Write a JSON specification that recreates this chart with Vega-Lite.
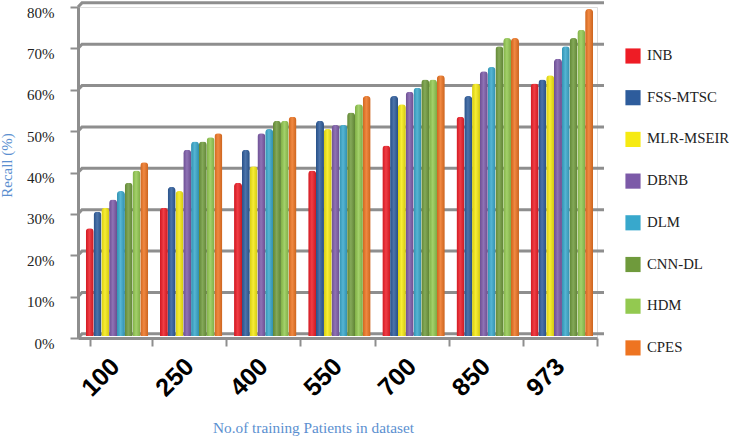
{
"$schema":"https://vega.github.io/schema/vega-lite/v6.json",
"width":519,"height":331,
"autosize":{"type":"none"},
"padding":{"left":78,"top":7,"right":132,"bottom":100},
"background":"white",
"datasets":{
"wall":[
{"wx":0,"wy":0,"level":0},{"wx":4,"wy":1,"level":0},{"wx":526,"wy":1,"level":0},
{"wx":0,"wy":10,"level":10},{"wx":4,"wy":11,"level":10},{"wx":526,"wy":11,"level":10},
{"wx":0,"wy":20,"level":20},{"wx":4,"wy":21,"level":20},{"wx":526,"wy":21,"level":20},
{"wx":0,"wy":30,"level":30},{"wx":4,"wy":31,"level":30},{"wx":526,"wy":31,"level":30},
{"wx":0,"wy":40,"level":40},{"wx":4,"wy":41,"level":40},{"wx":526,"wy":41,"level":40},
{"wx":0,"wy":50,"level":50},{"wx":4,"wy":51,"level":50},{"wx":526,"wy":51,"level":50},
{"wx":0,"wy":60,"level":60},{"wx":4,"wy":61,"level":60},{"wx":526,"wy":61,"level":60},
{"wx":0,"wy":70,"level":70},{"wx":4,"wy":71,"level":70},{"wx":526,"wy":71,"level":70},
{"wx":0,"wy":80,"level":80},{"wx":4,"wy":81,"level":80},{"wx":526,"wy":81,"level":80}
],
"bars":[
{"n":"100","m":"INB","v":26},{"n":"100","m":"FSS-MTSC","v":30},{"n":"100","m":"MLR-MSEIR","v":31},{"n":"100","m":"DBNB","v":33},{"n":"100","m":"DLM","v":35},{"n":"100","m":"CNN-DL","v":37},{"n":"100","m":"HDM","v":40},{"n":"100","m":"CPES","v":42},
{"n":"250","m":"INB","v":31},{"n":"250","m":"FSS-MTSC","v":36},{"n":"250","m":"MLR-MSEIR","v":35},{"n":"250","m":"DBNB","v":45},{"n":"250","m":"DLM","v":47},{"n":"250","m":"CNN-DL","v":47},{"n":"250","m":"HDM","v":48},{"n":"250","m":"CPES","v":49},
{"n":"400","m":"INB","v":37},{"n":"400","m":"FSS-MTSC","v":45},{"n":"400","m":"MLR-MSEIR","v":41},{"n":"400","m":"DBNB","v":49},{"n":"400","m":"DLM","v":50},{"n":"400","m":"CNN-DL","v":52},{"n":"400","m":"HDM","v":52},{"n":"400","m":"CPES","v":53},
{"n":"550","m":"INB","v":40},{"n":"550","m":"FSS-MTSC","v":52},{"n":"550","m":"MLR-MSEIR","v":50},{"n":"550","m":"DBNB","v":51},{"n":"550","m":"DLM","v":51},{"n":"550","m":"CNN-DL","v":54},{"n":"550","m":"HDM","v":56},{"n":"550","m":"CPES","v":58},
{"n":"700","m":"INB","v":46},{"n":"700","m":"FSS-MTSC","v":58},{"n":"700","m":"MLR-MSEIR","v":56},{"n":"700","m":"DBNB","v":59},{"n":"700","m":"DLM","v":60},{"n":"700","m":"CNN-DL","v":62},{"n":"700","m":"HDM","v":62},{"n":"700","m":"CPES","v":63},
{"n":"850","m":"INB","v":53},{"n":"850","m":"FSS-MTSC","v":58},{"n":"850","m":"MLR-MSEIR","v":61},{"n":"850","m":"DBNB","v":64},{"n":"850","m":"DLM","v":65},{"n":"850","m":"CNN-DL","v":70},{"n":"850","m":"HDM","v":72},{"n":"850","m":"CPES","v":72},
{"n":"973","m":"INB","v":61},{"n":"973","m":"FSS-MTSC","v":62},{"n":"973","m":"MLR-MSEIR","v":63},{"n":"973","m":"DBNB","v":67},{"n":"973","m":"DLM","v":70},{"n":"973","m":"CNN-DL","v":72},{"n":"973","m":"HDM","v":74},{"n":"973","m":"CPES","v":79}
]},
"resolve":{"scale":{"x":"independent","y":"independent"},"axis":{"x":"independent","y":"independent"}},
"layer":[
{"data":{"name":"wall"},
 "mark":{"type":"line","color":"#8e8e8e","strokeWidth":3,"clip":false},
 "encoding":{
  "x":{"field":"wx","type":"quantitative","scale":{"domain":[0,519],"nice":false,"zero":false},"axis":null},
  "y":{"field":"wy","type":"quantitative","scale":{"domain":[0,80],"nice":false},
   "axis":{"values":[0,10,20,30,40,50,60,70,80],"labelExpr":"datum.value+'%'","grid":false,"labelFont":"Liberation Serif","labelFontSize":15,"labelColor":"#222222","labelOffset":5,"labelPadding":16,"tickSize":8,"tickColor":"#8e8e8e","tickWidth":2,"domainColor":"#8e8e8e","domainWidth":3,"title":"Recall (%)","titleFont":"Liberation Serif","titleFontSize":15,"titleFontWeight":"normal","titleColor":"#5b8fd0","titleX":-64,"titleY":158}},
  "detail":{"field":"level"},
  "order":{"field":"wx"}
 }},
{"data":{"name":"bars"},
 "layer":[
  {"mark":{"type":"bar","width":8,"cornerRadiusTopLeft":3.5,"cornerRadiusTopRight":3.5},
   "encoding":{
    "color":{"field":"m","type":"nominal","sort":["INB","FSS-MTSC","MLR-MSEIR","DBNB","DLM","CNN-DL","HDM","CPES"],
     "scale":{"domain":["INB","FSS-MTSC","MLR-MSEIR","DBNB","DLM","CNN-DL","HDM","CPES"],"range":["#ee1c25","#2d5c9c","#f6ea12","#7c5aa8","#38a8cc","#6f9a3c","#93c950","#ee7421"]},
     "legend":{"title":null,"orient":"none","legendX":547,"legendY":41,"symbolType":"square","symbolSize":230,"symbolStrokeWidth":0,"symbolOpacity":1,"rowPadding":25.7,"labelFont":"Liberation Serif","labelFontSize":14.8,"labelColor":"#222222","labelOffset":6}}
   }},
  {"mark":{"type":"bar","width":8,"cornerRadiusTopLeft":3.5,"cornerRadiusTopRight":3.5,
    "color":{"gradient":"linear","x1":0,"x2":1,"y1":0,"y2":0,"stops":[{"offset":0,"color":"rgba(0,0,0,0.12)"},{"offset":0.45,"color":"rgba(255,255,255,0.15)"},{"offset":1,"color":"rgba(0,0,0,0.15)"}]}}}
 ],
 "encoding":{
  "x":{"field":"n","type":"nominal","sort":null,"scale":{"paddingInner":0.16,"paddingOuter":0.08,"align":1},
   "axis":{"tickBand":"extent","labelOffset":-6,"labelAngle":-45,"labelAlign":"right","labelBaseline":"middle","labelFont":"Liberation Sans","labelFontSize":25,"labelFontWeight":"bold","labelColor":"#000000","labelPadding":16,"tickSize":8,"tickColor":"#8e8e8e","tickWidth":2,"domainColor":"#8e8e8e","domainWidth":3,"title":"No.of  training Patients in dataset","titleFont":"Liberation Serif","titleFontSize":15.3,"titleFontWeight":"normal","titleColor":"#5b8fd0","titleX":235,"titleY":89,"titleBaseline":"middle"}},
  "xOffset":{"field":"m","type":"nominal","sort":["INB","FSS-MTSC","MLR-MSEIR","DBNB","DLM","CNN-DL","HDM","CPES"],"scale":{"paddingInner":0,"paddingOuter":0,"range":[-4,58.3]}},
  "y":{"field":"v","type":"quantitative","scale":{"domain":[-0.5,79.5],"nice":false,"zero":false},"axis":null}
 }}
]
}
